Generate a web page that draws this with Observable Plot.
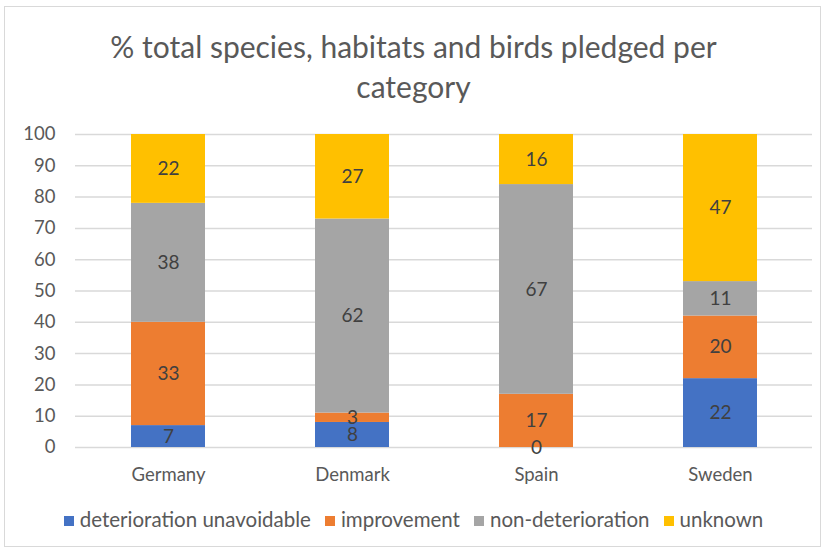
<!DOCTYPE html>
<html>
<head>
<meta charset="utf-8">
<script src="https://cdn.jsdelivr.net/npm/d3@7"></script>
<script src="https://cdn.jsdelivr.net/npm/@observablehq/plot@0.6"></script>
<style>
  body { margin: 0; background: #fff; font-family: Lato, "Open Sans", sans-serif; }
  #wrap { position: relative; width: 827px; height: 552px; overflow: hidden; }
  #frame { position: absolute; left: 4px; top: 6px; width: 817px; height: 541px; border: 1px solid #d9d9d9; box-sizing: border-box; }
  #title { position: absolute; left: 0; top: 26px; width: 827px; text-align: center; color: #595959; font-size: 30px; line-height: 40px; }
  #chart { position: absolute; left: 0; top: 110px; }
  #legend { position: absolute; left: 0; top: 507px; width: 827px; display: flex; justify-content: center; gap: 14px; color: #595959; font-size: 20.5px; }
  #legend span.sw { display: inline-block; width: 10px; height: 10px; margin-right: 6px; vertical-align: 1px; }
</style>
</head>
<body>
<div id="wrap">
  <div id="frame"></div>
  <div id="title">% total species, habitats and birds pledged per<br>category</div>
  <div id="chart"></div>
  <div id="legend"></div>
</div>
<script>
const countries = ["Germany", "Denmark", "Spain", "Sweden"];
const series = ["deterioration unavoidable", "improvement", "non-deterioration", "unknown"];
const colors = ["#4472C4", "#ED7D31", "#A5A5A5", "#FFC000"];
const deteriorationUnavoidable = [7, 8, 0, 22];
const improvement = [33, 3, 17, 20];
const nonDeterioration = [38, 62, 67, 11];
const unknown = [22, 27, 16, 47];
const yTicks = [0, 10, 20, 30, 40, 50, 60, 70, 80, 90, 100];

const valuesBySeries = [deteriorationUnavoidable, improvement, nonDeterioration, unknown];
const data = [];
series.forEach((s, si) => countries.forEach((c, ci) => data.push({country: c, series: s, value: valuesBySeries[si][ci]})));

const chart = Plot.plot({
  width: 827,
  height: 377,
  marginLeft: 75,
  marginRight: 15,
  marginTop: 24,
  marginBottom: 40,
  style: {fontFamily: "Lato, 'Open Sans', sans-serif", fontSize: "18px", color: "#595959", background: "transparent"},
  x: {domain: countries, paddingInner: 0.6, paddingOuter: 0.3, label: null},
  y: {domain: [0, 100], ticks: yTicks, label: null},
  color: {domain: series, range: colors},
  marks: [
    Plot.gridY(yTicks, {stroke: "#d9d9d9", strokeOpacity: 1, strokeWidth: 1.5}),
    Plot.barY(data, Plot.stackY({x: "country", y: "value", z: "series", fill: "series"})),
    Plot.text(data, Plot.stackY({x: "country", y: "value", z: "series", text: d => String(d.value), fill: "#404040", fontSize: 19})),
    Plot.axisY({ticks: yTicks, tickSize: 0, tickPadding: 20, fontSize: 18.5, fill: "#595959", label: null}),
    Plot.axisX({tickSize: 0, tickPadding: 20, fontSize: 18.5, fill: "#595959", label: null})
  ]
});
document.getElementById("chart").appendChild(chart);

const legend = document.getElementById("legend");
series.forEach((s, i) => {
  const item = document.createElement("div");
  item.innerHTML = `<span class="sw" style="background:${colors[i]}"></span>${s}`;
  legend.appendChild(item);
});
</script>
</body>
</html>
